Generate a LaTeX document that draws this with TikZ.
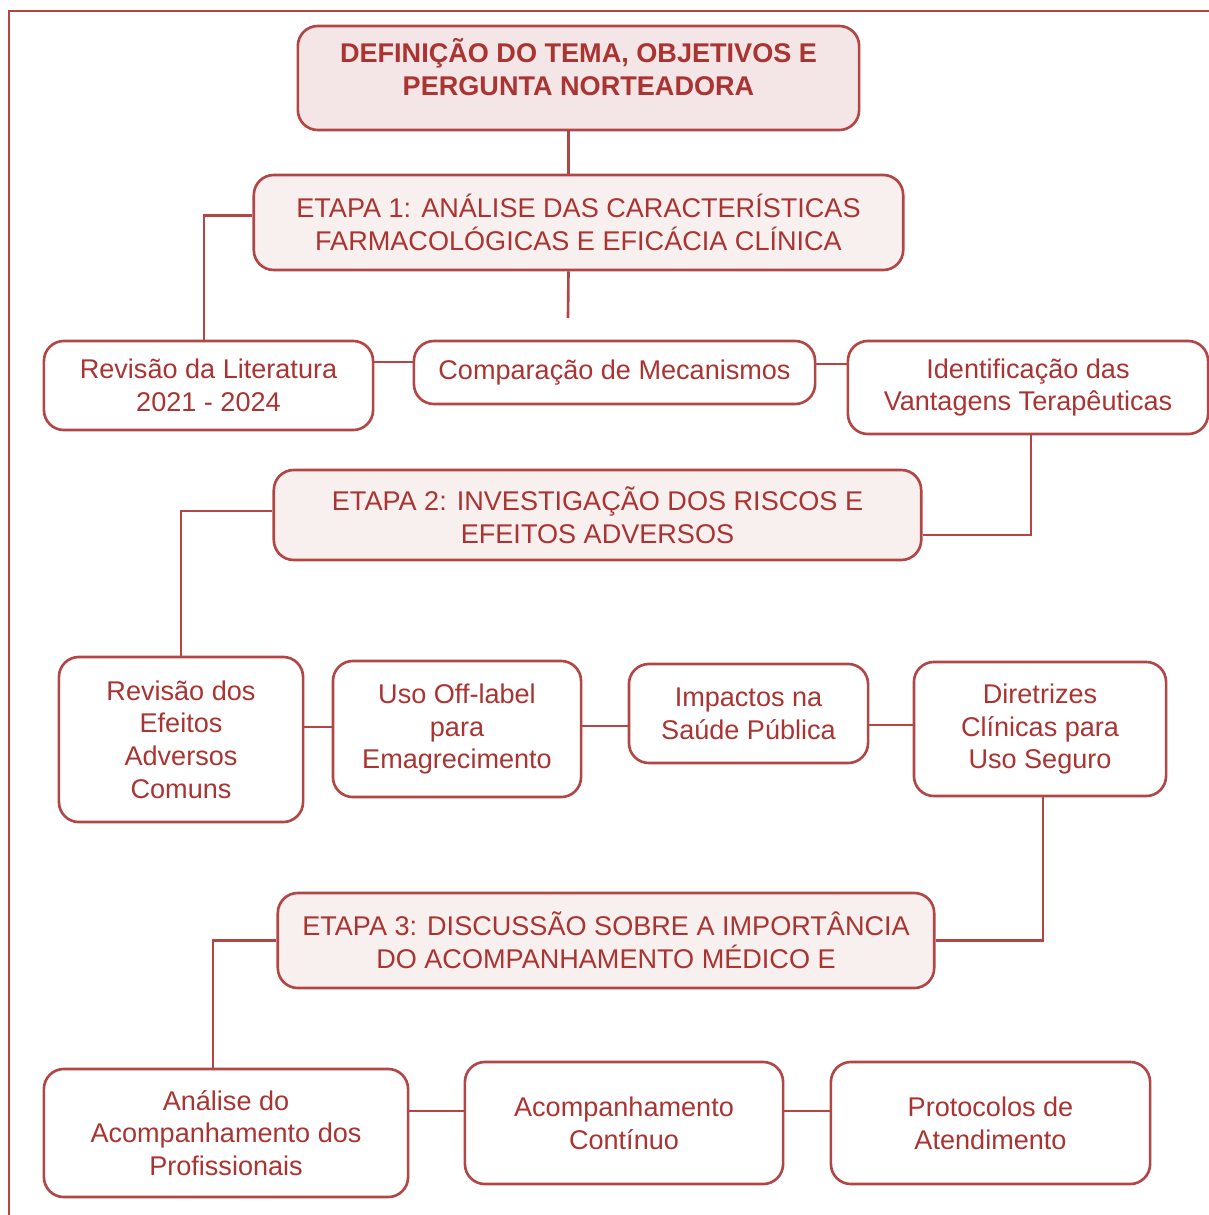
\documentclass[tikz,border=0pt]{standalone}
\usepackage{fontspec}
\setmainfont{Liberation Sans}
\usetikzlibrary{positioning,calc}
\definecolor{vinho}{RGB}{170,52,50}
\definecolor{borda}{RGB}{178,70,68}
\definecolor{rosa}{RGB}{248,239,239}
\definecolor{rosaforte}{RGB}{244,230,230}

\begin{document}
\begin{tikzpicture}[x=0.01cm,y=-0.01cm,
  box/.style = {draw=borda, line width=0.75pt, rounded corners=0.2cm, fill=white, text=vinho, align=center, inner sep=0pt, font=\fontsize{7.7}{9.3}\selectfont},
  etapa/.style = {box, fill=rosa},
  titulo/.style = {box, fill=rosaforte, font=\fontsize{7.7}{9.3}\selectfont\bfseries},
  link/.style = {draw=borda, line width=0.75pt, line join=miter},]
\useasboundingbox (0,0) rectangle (1209,1215);
\draw[link] (8,11)--(1209,11);
\draw[link] (9,11)--(9,1215);
\node (T) at (578.5,78)[titulo, minimum width=5.61cm, minimum height=1.04cm] {DEFINIÇÃO DO TEMA, OBJETIVOS E\\PERGUNTA NORTEADORA\\[-0.1cm]\mbox{}};
\node (E1) at (578.5,222.5)[etapa, minimum width=6.49cm, minimum height=0.95cm] {ETAPA 1: ANÁLISE DAS CARACTERÍSTICAS\\FARMACOLÓGICAS E EFICÁCIA CLÍNICA};
\node (RL) at (208.5,385.5)[box, minimum width=3.29cm, minimum height=0.89cm] {Revisão da Literatura\\2021 - 2024};
\node (CM) at (614.5,372.5)[box, minimum width=4.01cm, minimum height=0.63cm] {Comparação de Mecanismos};
\node (IV) at (1028,387.5)[box, minimum width=3.60cm, minimum height=0.93cm] {Identificação das\\Vantagens Terapêuticas};
\node (E2) at (597.5,515)[etapa, minimum width=6.47cm, minimum height=0.90cm] {ETAPA 2: INVESTIGAÇÃO DOS RISCOS E\\EFEITOS ADVERSOS};
\node (RE) at (181,739.5)[box, minimum width=2.44cm, minimum height=1.65cm] {Revisão dos\\Efeitos\\Adversos\\Comuns};
\node (UO) at (457,729)[box, minimum width=2.48cm, minimum height=1.36cm] {Uso Off-label\\para\\Emagrecimento};
\node (IS) at (748.5,713.5)[box, minimum width=2.39cm, minimum height=0.99cm] {Impactos na\\Saúde Pública};
\node (DC) at (1040,729)[box, minimum width=2.52cm, minimum height=1.34cm] {Diretrizes\\Clínicas para\\Uso Seguro};
\node (E3) at (606,940.5)[etapa, minimum width=6.56cm, minimum height=0.95cm] {ETAPA 3: DISCUSSÃO SOBRE A IMPORTÂNCIA\\DO ACOMPANHAMENTO MÉDICO E};
\node (AP) at (226,1133)[box, minimum width=3.64cm, minimum height=1.28cm] {Análise do\\Acompanhamento dos\\Profissionais};
\node (AC) at (624,1123)[box, minimum width=3.18cm, minimum height=1.22cm] {Acompanhamento\\Contínuo};
\node (PA) at (990.5,1123)[box, minimum width=3.19cm, minimum height=1.22cm] {Protocolos de\\Atendimento};
\coordinate (E1fim) at (568,318);
\draw[link] ([xshift=-0.1cm]T.south)--([xshift=-0.1cm]E1.north);
\draw[link] ([xshift=-0.1cm]E1.south)--(E1fim);
\draw[link] ([yshift=0.07cm]E1.west)-|([xshift=-0.045cm]RL.north);
\draw[link] (RL.east |- 0,362)--(CM.west |- 0,362);
\draw[link] (CM.east |- 0,364)--(IV.west |- 0,364);
\draw[link] ([xshift=0.03cm]IV.south)|-([yshift=-0.2cm]E2.east);
\draw[link] ([yshift=0.04cm]E2.west)-|(RE.north);
\draw[link] (RE.east |- 0,727)--(UO.west |- 0,727);
\draw[link] (UO.east |- 0,726)--(IS.west |- 0,726);
\draw[link] (IS.east |- 0,725)--(DC.west |- 0,725);
\draw[link] ([xshift=0.03cm]DC.south)|-(E3.east);
\draw[link] (E3.west)-|([xshift=-0.13cm]AP.north);
\draw[link] (AP.east |- 0,1111)--(AC.west |- 0,1111);
\draw[link] (AC.east |- 0,1111)--(PA.west |- 0,1111);
\end{tikzpicture}
\end{document}
